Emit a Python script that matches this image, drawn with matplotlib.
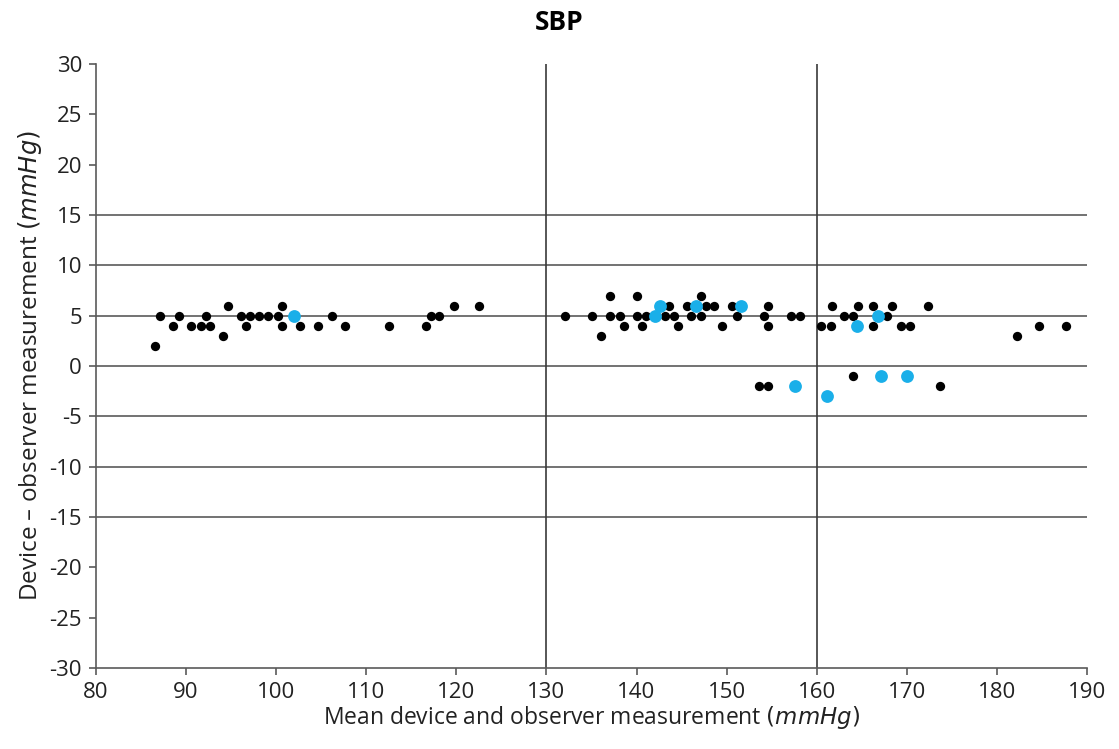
import matplotlib
matplotlib.use("Agg")
import matplotlib.pyplot as plt

plt.rcParams['font.family'] = ['Open Sans', 'DejaVu Sans']
plt.rcParams['axes.unicode_minus'] = False

title = "SBP"
x_label_main = "Mean device and observer measurement "
y_label_main = "Device \u2013 observer measurement "
unit = "(mmHg)"

x_ticks = [80, 90, 100, 110, 120, 130, 140, 150, 160, 170, 180, 190]
y_ticks = [30, 25, 20, 15, 10, 5, 0, -5, -10, -15, -20, -25, -30]
h_lines = [15, 10, 5, 0, -5, -10, -15]
v_lines = [130, 160]

black_x = [86.6, 87.1, 88.6, 89.2, 90.5, 91.7, 92.2, 92.7, 94.1, 94.6, 96.1, 96.6,
           97.1, 98.1, 99.1, 100.2, 100.6, 100.6, 102.6, 104.6, 106.2, 107.6, 112.5,
           116.6, 117.2, 118.1, 119.7, 122.5,
           132.1, 135.1, 136.0, 137.0, 137.0, 138.2, 138.6, 140.1, 140.1, 140.6, 141.1,
           143.6, 143.2, 144.2, 144.6, 145.6, 146.0, 147.1, 147.1, 147.7, 148.6, 149.5,
           150.6, 151.1, 154.6, 154.2, 154.6, 157.1, 158.1, 153.6, 154.6,
           160.5, 161.6, 161.7, 163.0, 164.0, 164.6, 166.3, 166.3, 167.8, 168.4, 169.4,
           170.4, 172.4, 164.0, 173.7, 182.2, 184.7, 187.7]
black_y = [2, 5, 4, 5, 4, 4, 5, 4, 3, 6, 5, 4,
           5, 5, 5, 5, 6, 4, 4, 4, 5, 4, 4,
           4, 5, 5, 6, 6,
           5, 5, 3, 7, 5, 5, 4, 7, 5, 4, 5,
           6, 5, 5, 4, 6, 5, 7, 5, 6, 6, 4,
           6, 5, 6, 5, 4, 5, 5, -2, -2,
           4, 4, 6, 5, 5, 6, 6, 4, 5, 6, 4,
           4, 6, -1, -2, 3, 4, 4]

blue_x = [102.0, 142.1, 142.6, 146.6, 151.6, 157.6, 161.1, 164.5, 166.8, 167.1, 170.0]
blue_y = [5, 5, 6, 6, 6, -2, -3, 4, 5, -1, -1]

fig = plt.figure(figsize=(11.19, 7.49), dpi=100)
ax = fig.add_axes([96/1119, 81/749, 991/1119, 604/749])

for h in h_lines:
    ax.axhline(h, color='#5a5a5a', lw=1.2, zorder=1)
for v in v_lines:
    ax.axvline(v, color='#3a3a3a', lw=1.2, zorder=1)

ax.scatter(black_x, black_y, s=45, color='black', zorder=3, linewidths=0)
ax.scatter(blue_x, blue_y, s=85, color='#1AAFE9', zorder=4, linewidths=0)

ax.set_xlim(80, 190)
ax.set_ylim(-30, 30)
ax.set_xticks(x_ticks)
ax.set_yticks(y_ticks)
for s in ['top', 'right']:
    ax.spines[s].set_visible(False)
for s in ['left', 'bottom']:
    ax.spines[s].set_color('#5a5a5a')
    ax.spines[s].set_linewidth(1.2)
ax.tick_params(axis='both', direction='out', length=5, width=1.2, color='#5a5a5a',
               labelsize=16, labelcolor='#222222', pad=5)

ax.set_xlabel(x_label_main + r"$\it{(mmHg)}$", fontsize=16.5, color='#222222', labelpad=1)
ax.set_ylabel(y_label_main + r"$\it{(mmHg)}$", fontsize=17.5, color='#222222', labelpad=4)
fig.text(0.5, 1 - 22/749, title, ha='center', va='center', fontsize=19, fontweight='bold')

fig.savefig("out.png", dpi=100)
